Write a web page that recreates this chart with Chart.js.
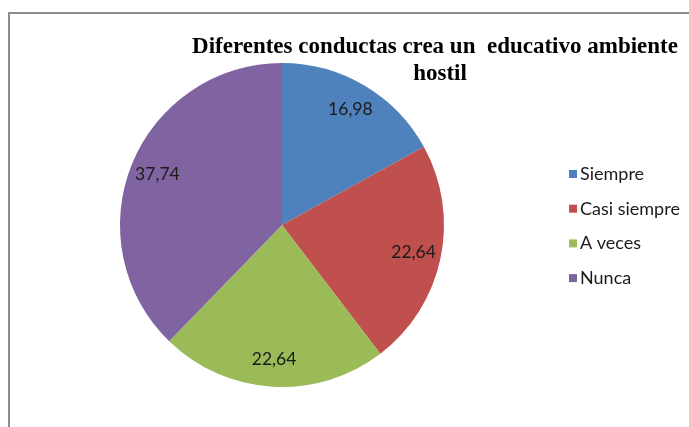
<!DOCTYPE html>
<html>
<head>
<meta charset="utf-8">
<script src="https://cdn.jsdelivr.net/npm/chart.js@4/dist/chart.umd.min.js"></script>
<style>
  html, body { margin: 0; padding: 0; background: #ffffff; }
  #wrap { position: relative; width: 689px; height: 427px; overflow: hidden; }
  #frame { position: absolute; left: 8px; top: 12px; width: 700px; height: 430px;
           border-left: 2px solid #8c8c8c; border-top: 2px solid #8c8c8c; box-sizing: border-box; }
  canvas { position: absolute; left: 0; top: 0; }
</style>
</head>
<body>
<div id="wrap">
  <div id="frame"></div>
  <canvas id="c" width="689" height="427"></canvas>
</div>
<script>
const titleLines = ["Diferentes conductas crea un  educativo ambiente", "hostil"];
const categories = ["Siempre", "Casi siempre", "A veces", "Nunca"];
const values = [16.98, 22.64, 22.64, 37.74];
const valueLabels = ["16,98", "22,64", "22,64", "37,74"];
const colors = ["#4F81BD", "#C0504D", "#9BBB59", "#8064A2"];

const decorPlugin = {
  id: 'decor',
  afterDatasetsDraw(chart) {
    const ctx = chart.ctx;
    const meta = chart.getDatasetMeta(0);
    ctx.save();
    ctx.font = '17.5px Lato';
    ctx.fillStyle = '#1a1a1a';
    ctx.textAlign = 'center';
    ctx.textBaseline = 'middle';
    meta.data.forEach((arc, i) => {
      const p = arc.getProps(['x', 'y', 'startAngle', 'endAngle', 'outerRadius'], true);
      const mid = (p.startAngle + p.endAngle) / 2;
      const r = p.outerRadius * 0.83;
      ctx.fillText(valueLabels[i], p.x + Math.cos(mid) * r, p.y + Math.sin(mid) * r);
    });
    // Title
    ctx.font = 'bold 23px "Liberation Serif"';
    ctx.fillStyle = '#000000';
    ctx.textBaseline = 'alphabetic';
    ctx.fillText(titleLines[0], 435, 53);
    ctx.fillText(titleLines[1], 440, 80);
    // Legend
    ctx.font = '18px Lato';
    ctx.textAlign = 'left';
    ctx.textBaseline = 'middle';
    categories.forEach((name, i) => {
      const y = 174 + i * 34.7;
      ctx.fillStyle = colors[i];
      ctx.fillRect(569, y - 4, 8, 8);
      ctx.fillStyle = '#1a1a1a';
      ctx.fillText(name, 580, y);
    });
    ctx.restore();
  }
};

new Chart(document.getElementById('c'), {
  type: 'pie',
  data: {
    labels: categories,
    datasets: [{
      data: values,
      backgroundColor: colors,
      borderWidth: 0
    }]
  },
  options: {
    responsive: false,
    animation: false,
    layout: { padding: { left: 120, right: 245, top: 63, bottom: 40 } },
    plugins: {
      legend: { display: false },
      title: { display: false },
      tooltip: { enabled: false }
    }
  },
  plugins: [decorPlugin]
});
</script>
</body>
</html>
